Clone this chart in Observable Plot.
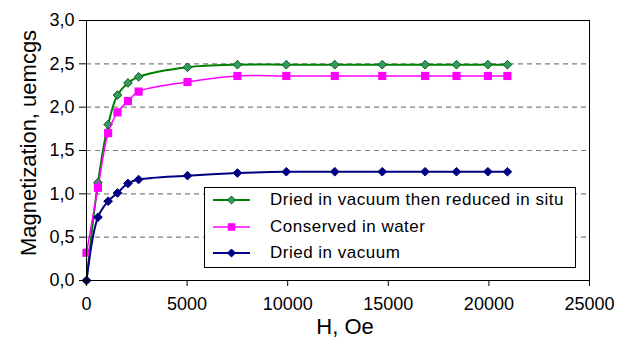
<!DOCTYPE html>
<html>
<head>
<meta charset="utf-8">
<script src="https://cdn.jsdelivr.net/npm/d3@7"></script>
<script src="https://cdn.jsdelivr.net/npm/@observablehq/plot@0.6"></script>
<style>
  body { margin: 0; background: #fff; }
  #chart { position: relative; width: 620px; height: 344px; font-family: "Liberation Sans", Arial, sans-serif; }
  #legend { position: absolute; left: 204px; top: 187px; width: 372px; height: 81px; box-sizing: border-box;
            border: 1px solid #000; background: #fff; }
  #legend .row { position: absolute; left: 8px; height: 20px; display: flex; align-items: center; }
  #legend .row svg { display: block; }
  #legend .row span { position: absolute; left: 57px; white-space: nowrap; font-size: 17px; letter-spacing: 0.5px; color: #000; }
</style>
</head>
<body>
<div id="chart"></div>
<script>
// Applied field H (Oe) at which each magnetization was measured
const fieldOe = [0, 570, 1075, 1540, 2060, 2590, 5020, 7500, 9930, 12340, 14700, 16830, 18390, 19950, 20920];

// Magnetization (uemcgs) for the three sample preparations
const reducedInSitu    = [0, 1.13, 1.80, 2.14, 2.28, 2.35, 2.46, 2.49, 2.49, 2.49, 2.49, 2.49, 2.49, 2.49, 2.49];
const conservedInWater = [0.32, 1.07, 1.70, 1.94, 2.07, 2.18, 2.29, 2.36, 2.36, 2.36, 2.36, 2.36, 2.36, 2.36, 2.36];
const driedInVacuum    = [0, 0.73, 0.915, 1.01, 1.12, 1.165, 1.21, 1.24, 1.255, 1.255, 1.255, 1.255, 1.255, 1.255, 1.255];

const seriesNames = ["Dried in vacuum then reduced in situ", "Conserved in water", "Dried in vacuum"];

const xTicks = [0, 5000, 10000, 15000, 20000, 25000];
const yTicks = [0, 0.5, 1, 1.5, 2, 2.5, 3];

// Drawing style for each series
const styles = [
  {stroke: "#008000", width: 2, symbol: "diamond2", r: 3.9, fill: "#339966", edge: "#006400"},
  {stroke: "#ff00ff", width: 1.5, symbol: "square", r: 4.6, fill: "#ff00ff", edge: "none"},
  {stroke: "#000080", width: 2, symbol: "diamond2", r: 3.9, fill: "#000080", edge: "#000080"}
];

const valuesBySeries = [reducedInSitu, conservedInWater, driedInVacuum];
const tables = valuesBySeries.map((vals, s) =>
  fieldOe.map((h, i) => ({series: seriesNames[s], h, m: vals[i]}))
);

const seriesMarks = tables.flatMap((rows, s) => [
  Plot.line(rows, {x: "h", y: "m", stroke: styles[s].stroke, strokeWidth: styles[s].width, curve: "catmull-rom"}),
  Plot.dot(rows, {x: "h", y: "m", symbol: () => styles[s].symbol, r: styles[s].r,
                  fill: styles[s].fill, stroke: styles[s].edge, strokeWidth: 1})
]);

const commaFormat = d => d.toFixed(1).replace(".", ",");

const chart = Plot.plot({
  width: 620,
  height: 344,
  marginLeft: 86,
  marginRight: 31,
  marginTop: 20,
  marginBottom: 64,
  style: {fontFamily: "'Liberation Sans', Arial, sans-serif", background: "#fff", color: "#000", overflow: "visible"},
  x: {domain: [0, 25000]},
  y: {domain: [0, 3]},
  symbol: {type: "identity"},
  marks: [
    Plot.ruleY(yTicks.filter(v => v > 0 && v < 3), {stroke: "#808080", strokeWidth: 1.2, strokeDasharray: "5,4"}),
    Plot.ruleY([3], {stroke: "#000"}),
    Plot.ruleX([25000], {stroke: "#000"}),
    ...seriesMarks,
    Plot.axisX({ticks: xTicks, tickFormat: d3.format("d"), tickSize: 6, tickPadding: 11, fontSize: 18, label: null,
                style: {letterSpacing: "0.6px"}}),
    Plot.axisY({ticks: yTicks, tickFormat: commaFormat, tickSize: 7, tickPadding: 5, fontSize: 18, label: null,
                style: {letterSpacing: "0.6px"}}),
    Plot.ruleX([0], {stroke: "#000"}),
    Plot.ruleY([0], {stroke: "#000"}),
    Plot.text(["H, Oe"], {frameAnchor: "bottom", textAnchor: "middle", dx: 7, dy: 53, fontSize: 22, fill: "#000"}),
    Plot.text(["Magnetization, uemcgs"], {frameAnchor: "left", textAnchor: "middle", rotate: -90, dx: -58, dy: -7.5,
                                          fontSize: 22, fill: "#000"})
  ]
});

const root = document.getElementById("chart");
root.appendChild(chart);

// Legend box inside the plotting area
const legend = document.createElement("div");
legend.id = "legend";
const rowTops = [2, 29, 55];
seriesNames.forEach((name, s) => {
  const row = document.createElement("div");
  row.className = "row";
  row.style.top = rowTops[s] + "px";
  const sw = d3.create("svg").attr("width", 40).attr("height", 20);
  sw.append("line").attr("x1", 0).attr("x2", 37).attr("y1", 10).attr("y2", 10)
    .attr("stroke", styles[s].stroke).attr("stroke-width", styles[s].width);
  const sym = styles[s].symbol === "square" ? d3.symbolSquare : d3.symbolDiamond2;
  sw.append("path").attr("transform", "translate(18.5,10)")
    .attr("d", d3.symbol(sym, Math.PI * styles[s].r * styles[s].r * 0.85)())
    .attr("fill", styles[s].fill).attr("stroke", styles[s].edge);
  row.appendChild(sw.node());
  const label = document.createElement("span");
  label.textContent = name;
  row.appendChild(label);
  legend.appendChild(row);
});
root.appendChild(legend);
</script>
</body>
</html>
